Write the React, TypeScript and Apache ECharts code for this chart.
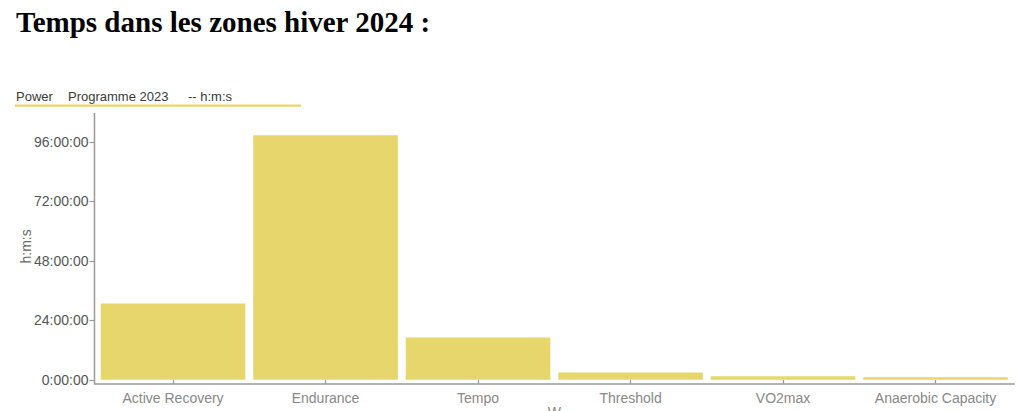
import React, { useEffect, useRef } from "react";
import * as echarts from "echarts";

const categories = ["Active Recovery", "Endurance", "Tempo", "Threshold", "VO2max", "Anaerobic Capacity"];
const hoursValues = [30.8, 98.6, 17.1, 2.9, 1.45, 1.05];
const yTickValues = [0, 24, 48, 72, 96];
const titleText = "Temps dans les zones hiver 2024 :";
const legendParts = ["Power", "Programme 2023", "-- h:m:s"];

const W = 1024;
const H = 411;
const GRID_L = 96.8;
const GRID_R = 12.2;
const GRID_T = 113;
const GRID_B = 31.2;
const Y_MAX = 107.6;
const BAR_COLOR = "#e7d66b";
const AXIS_COLOR = "#9a9a9a";
const FONT = "Liberation Sans, Arial, Helvetica, sans-serif";

function fmt(h: number) {
  const hh = Math.floor(h);
  const mm = Math.round((h - hh) * 60);
  return `${hh}:${String(mm).padStart(2, "0")}:00`;
}

export default function App() {
  const ref = useRef<HTMLDivElement>(null);
  useEffect(() => {
    if (!ref.current) return;
    const chart = echarts.init(ref.current, null, { renderer: "svg" });
    const yLineX = GRID_L - 2.3;
    const xLineY = H - GRID_B + 4.2;
    chart.setOption({
      animation: false,
      backgroundColor: "#ffffff",
      title: {
        text: titleText,
        left: 11,
        top: 2,
        textStyle: {
          fontFamily: "Liberation Serif, Times New Roman, serif",
          fontWeight: "bold",
          fontSize: 29,
          color: "#000",
        },
      },
      graphic: [
        { type: "text", left: 16, top: 89.5, style: { text: legendParts[0], font: `13px ${FONT}`, fill: "#3a3a3a" } },
        { type: "text", left: 68, top: 89.5, style: { text: legendParts[1], font: `13px ${FONT}`, fill: "#3a3a3a" } },
        { type: "text", left: 188, top: 89.5, style: { text: legendParts[2], font: `13px ${FONT}`, fill: "#3a3a3a" } },
        {
          type: "line",
          shape: { x1: 15, y1: 105.6, x2: 301, y2: 105.6 },
          style: { stroke: BAR_COLOR, lineWidth: 2.2 },
        },
        {
          type: "polyline",
          shape: {
            points: [
              [yLineX, GRID_T],
              [yLineX, xLineY],
              [W - GRID_R + 3, xLineY],
            ],
          },
          style: { stroke: AXIS_COLOR, lineWidth: 1.5, fill: "none" },
          z: 10,
        },
      ],
      grid: {
        left: GRID_L,
        right: GRID_R,
        top: GRID_T,
        bottom: GRID_B,
        containLabel: false,
        outerBoundsMode: "none",
      },
      xAxis: {
        type: "category",
        data: categories,
        offset: 4.2,
        name: "W",
        nameLocation: "middle",
        nameGap: 21,
        nameMoveOverlap: false,
        nameTextStyle: { color: "#888", fontSize: 14, fontFamily: FONT },
        axisLine: { show: false },
        axisTick: { show: true, alignWithLabel: true, interval: 0, length: 4, lineStyle: { color: AXIS_COLOR, width: 1.2 } },
        axisLabel: { interval: 0, margin: 7, color: "#888", fontSize: 14, fontFamily: FONT },
      },
      yAxis: {
        type: "value",
        min: 0,
        max: Y_MAX,
        offset: 2.3,
        name: "h:m:s",
        nameLocation: "middle",
        nameGap: 62,
        nameMoveOverlap: false,
        nameTextStyle: { color: "#666", fontSize: 14, fontFamily: FONT },
        splitLine: { show: false },
        axisLine: { show: false },
        axisTick: { show: true, length: 5, customValues: yTickValues, lineStyle: { color: AXIS_COLOR, width: 1.2 } },
        axisLabel: {
          customValues: yTickValues,
          margin: 6,
          color: "#555",
          fontSize: 14,
          fontFamily: FONT,
          formatter: (v: number) => fmt(v),
        },
      },
      series: [
        {
          type: "bar",
          data: hoursValues,
          barCategoryGap: "5.2%",
          itemStyle: { color: BAR_COLOR },
        },
      ],
    });
    return () => chart.dispose();
  }, []);
  return <div ref={ref} style={{ position: "fixed", left: 0, top: 0, width: W, height: H }} />;
}
